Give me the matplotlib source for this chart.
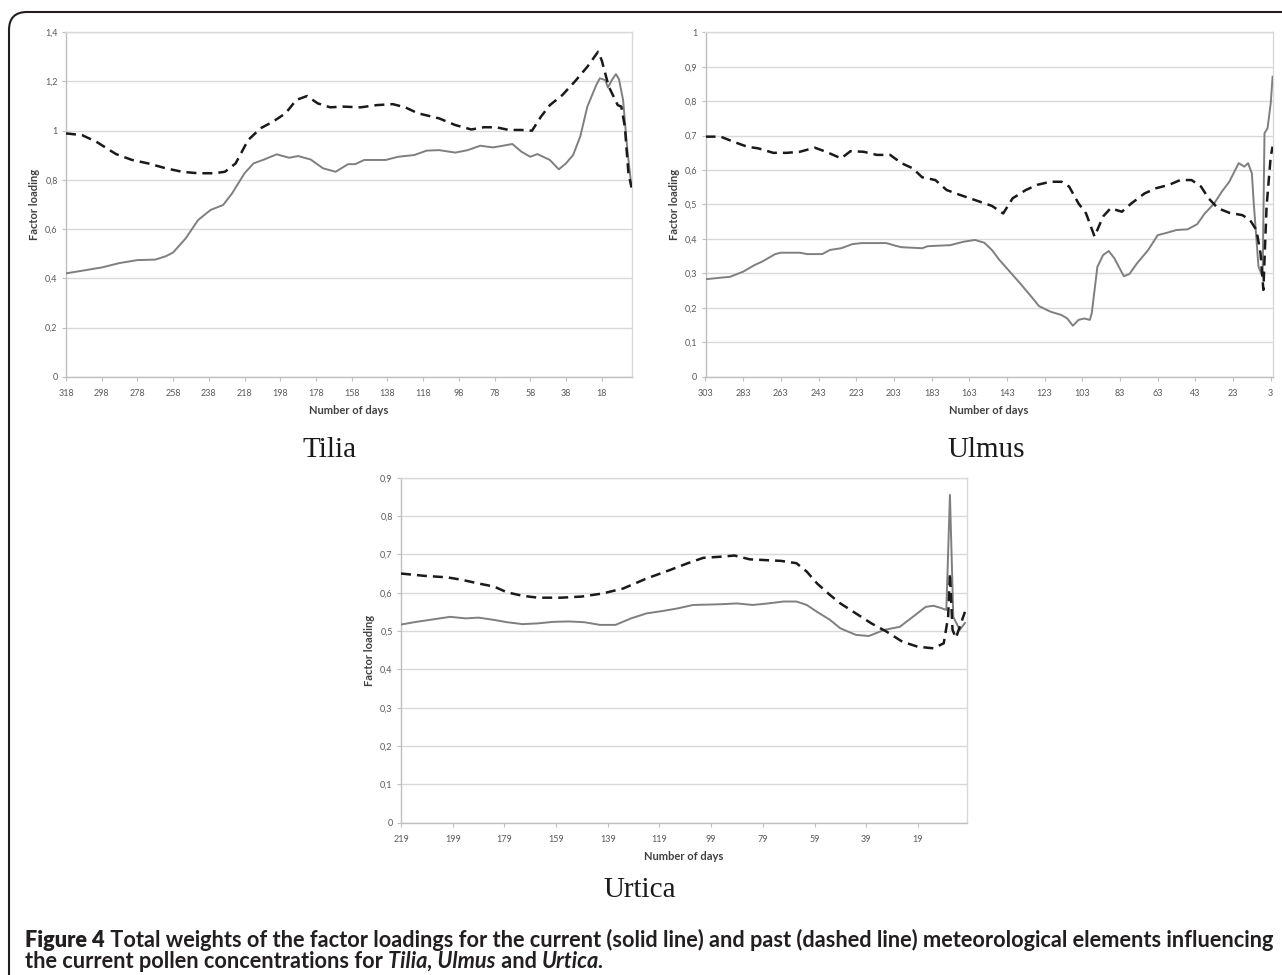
import matplotlib
matplotlib.use("Agg")
import matplotlib.pyplot as plt
from matplotlib.patches import FancyBboxPatch
from matplotlib.ticker import FuncFormatter, MultipleLocator
from matplotlib.transforms import IdentityTransform

# Data (day number, factor loading)
tilia_days_current = [318, 308, 298, 288, 278, 268, 262, 258, 251, 244, 237, 230, 225, 218, 213, 207,
                      200, 193, 188, 181, 174, 167, 160, 156, 151, 139, 132, 123, 116, 109, 100, 93,
                      86, 79, 74, 68, 63, 58, 54, 47, 42, 38, 34, 30, 26, 21, 19, 16, 14.5, 12, 10,
                      8.3, 6, 3.6, 1.3]
tilia_current = [0.420, 0.432, 0.444, 0.462, 0.474, 0.476, 0.490, 0.505, 0.562, 0.637, 0.678, 0.698,
                 0.745, 0.827, 0.867, 0.883, 0.904, 0.890, 0.897, 0.883, 0.847, 0.833, 0.864, 0.864,
                 0.881, 0.881, 0.894, 0.901, 0.919, 0.921, 0.911, 0.921, 0.939, 0.932, 0.938, 0.946,
                 0.915, 0.894, 0.905, 0.881, 0.843, 0.867, 0.901, 0.976, 1.098, 1.186, 1.213, 1.206,
                 1.176, 1.209, 1.230, 1.209, 1.125, 0.921, 0.772]
tilia_days_past = [318, 309, 301, 290, 281, 272, 262, 253, 244, 235, 229, 223, 216, 209, 202, 195,
                   189, 183, 177, 170, 163, 153, 144, 135, 128, 121, 109, 100, 91, 84, 77, 70, 63,
                   57, 52, 47, 40, 33, 26, 20, 18, 14, 9, 7, 5, 3, 1.3]
tilia_past = [0.989, 0.982, 0.955, 0.905, 0.881, 0.867, 0.847, 0.833, 0.827, 0.827, 0.833, 0.867,
              0.962, 1.010, 1.037, 1.071, 1.125, 1.141, 1.111, 1.095, 1.098, 1.095, 1.104, 1.108,
              1.095, 1.071, 1.050, 1.023, 1.005, 1.014, 1.014, 1.003, 1.003, 1.000, 1.057, 1.104,
              1.145, 1.200, 1.260, 1.321, 1.287, 1.179, 1.104, 1.098, 1.016, 0.827, 0.770]

ulmus_days_current = [303, 294, 290, 283, 277, 273, 266, 263, 253, 249, 241, 237, 231, 225, 220, 207,
                      202, 199, 188, 185, 173, 166, 160, 155, 151, 147, 141, 136, 130, 126, 120, 114,
                      111, 108, 105, 102, 99, 98, 95, 92, 89, 86, 81, 78, 74, 68, 63, 58, 53, 47, 42,
                      38, 33, 29, 25, 20, 17, 15, 13, 12, 9.5, 7.3, 6.3, 4.7, 3, 2]
ulmus_current = [0.283, 0.288, 0.290, 0.305, 0.324, 0.334, 0.356, 0.360, 0.360, 0.356, 0.356, 0.368,
                 0.373, 0.385, 0.388, 0.388, 0.380, 0.376, 0.373, 0.379, 0.382, 0.392, 0.397, 0.389,
                 0.368, 0.339, 0.302, 0.271, 0.232, 0.205, 0.189, 0.179, 0.169, 0.148, 0.165, 0.169,
                 0.165, 0.184, 0.319, 0.353, 0.365, 0.344, 0.292, 0.298, 0.329, 0.368, 0.411, 0.418,
                 0.426, 0.428, 0.443, 0.474, 0.503, 0.537, 0.566, 0.620, 0.610, 0.620, 0.590, 0.503,
                 0.320, 0.290, 0.707, 0.721, 0.794, 0.871]
ulmus_days_past = [303, 295, 288, 281, 275, 267, 260, 253, 245, 239, 231, 226, 219, 212, 205, 199,
                   193, 188, 181, 175, 168, 160, 151, 145, 140, 133, 127, 120, 114, 110, 105, 101,
                   96.5, 92, 88, 82, 77, 70, 64, 57, 51, 45, 40, 36, 31, 25, 18, 14, 10.6, 8.4, 6.9,
                   5.2, 3, 2]
ulmus_past = [0.697, 0.697, 0.682, 0.668, 0.663, 0.650, 0.650, 0.653, 0.665, 0.653, 0.634, 0.655,
              0.653, 0.644, 0.644, 0.620, 0.605, 0.579, 0.571, 0.542, 0.528, 0.513, 0.496, 0.474,
              0.518, 0.542, 0.557, 0.566, 0.566, 0.552, 0.503, 0.474, 0.407, 0.465, 0.489, 0.479,
              0.503, 0.532, 0.547, 0.557, 0.571, 0.571, 0.552, 0.518, 0.489, 0.476, 0.469, 0.455,
              0.426, 0.358, 0.252, 0.494, 0.639, 0.668]

urtica_days_current = [219, 213, 207, 200, 194, 189, 183, 178, 172, 166, 160, 154, 148, 142, 136, 130,
                       124, 118, 112, 106, 100, 95, 89, 83, 77, 71, 66, 62, 58, 53, 49, 43, 38, 32,
                       26, 20, 16, 13, 10, 8, 6.6, 5.3, 2.8, 0.8]
urtica_current = [0.517, 0.524, 0.530, 0.537, 0.533, 0.535, 0.529, 0.523, 0.518, 0.520, 0.524, 0.525,
                  0.523, 0.516, 0.516, 0.533, 0.546, 0.552, 0.559, 0.568, 0.569, 0.570, 0.572, 0.568,
                  0.572, 0.577, 0.577, 0.568, 0.550, 0.529, 0.507, 0.490, 0.487, 0.503, 0.511, 0.542,
                  0.563, 0.566, 0.560, 0.555, 0.855, 0.537, 0.503, 0.521]
urtica_days_past = [219, 210, 201, 195, 189, 183, 178, 172, 166, 157, 149, 141, 133, 124, 115, 108,
                    102, 95, 90, 84, 78, 72, 66, 62, 58, 53, 49, 43, 37, 31, 25, 19, 13, 9, 7.3, 6.6,
                    5.6, 4.3, 2.8, 0.8]
urtica_past = [0.650, 0.644, 0.640, 0.633, 0.624, 0.616, 0.601, 0.592, 0.587, 0.587, 0.590, 0.598,
               0.611, 0.637, 0.659, 0.677, 0.691, 0.694, 0.697, 0.687, 0.685, 0.683, 0.677, 0.655,
               0.624, 0.594, 0.572, 0.546, 0.520, 0.498, 0.472, 0.459, 0.455, 0.468, 0.537, 0.651,
               0.503, 0.482, 0.511, 0.550]

W, H = 1282, 975
fig = plt.figure(figsize=(W / 100, H / 100), dpi=100)
fig.patch.set_facecolor("white")

tick_font = "Lato"


def comma_fmt(v, pos):
    s = f"{v:.1f}".rstrip("0").rstrip(".")
    return s.replace(".", ",")


def px_rect(left, top, right, bottom):
    return [left / W, 1 - bottom / H, (right - left) / W, (bottom - top) / H]


# Fungsi panel gaya Excel
def draw_panel(rect, d_cur, v_cur, d_past, v_past, xstart, xend, ymax, ystep):
    ax = fig.add_axes(rect)
    ax.plot(d_cur, v_cur, color="#7f7f7f", lw=1.4, solid_joinstyle="round", zorder=3)
    ax.plot(d_past, v_past, color="#1a1a1a", lw=1.8, ls=(0, (4, 2.4)), zorder=4)
    ax.set_xlim(xstart, xend)
    ax.set_ylim(0, ymax)
    ax.set_xticks(list(range(xstart, 0, -20)))
    ax.yaxis.set_major_locator(MultipleLocator(ystep))
    ax.yaxis.set_major_formatter(FuncFormatter(comma_fmt))
    ax.grid(axis="y", color="#d9d9d9", lw=1.0)
    ax.set_axisbelow(True)
    for side in ["left", "bottom"]:
        ax.spines[side].set_color("#bfbfbf")
        ax.spines[side].set_linewidth(1.0)
    for side in ["top", "right"]:
        ax.spines[side].set_color("#d9d9d9")
        ax.spines[side].set_linewidth(1.0)
    ax.tick_params(axis="both", labelsize=6.5, labelcolor="#595959", color="#bfbfbf",
                   length=3, width=0.8)
    ax.tick_params(axis="x", pad=6)
    ax.tick_params(axis="y", pad=3)
    for lab in ax.get_xticklabels() + ax.get_yticklabels():
        lab.set_family(tick_font)
    ax.annotate("Number of days", xy=(0.5, 0), xycoords="axes fraction", xytext=(0, -24.5),
                textcoords="offset points", ha="center", va="center", fontsize=8,
                fontweight="bold", color="#404040", family=tick_font)
    ax.annotate("Factor loading", xy=(0, 0.5), xycoords="axes fraction", xytext=(-22.5, 0),
                textcoords="offset points", ha="center", va="center", rotation=90,
                fontsize=8, fontweight="bold", color="#404040", family=tick_font)
    return ax


draw_panel(px_rect(66, 32.3, 632, 376.7), tilia_days_current, tilia_current,
           tilia_days_past, tilia_past, 318, 1, 1.4, 0.2)
draw_panel(px_rect(705.5, 32.3, 1272.6, 376.7), ulmus_days_current, ulmus_current,
           ulmus_days_past, ulmus_past, 303, 2, 1.0, 0.1)
draw_panel(px_rect(401, 477.7, 967, 822.7), urtica_days_current, urtica_current,
           urtica_days_past, urtica_past, 219, 0, 0.9, 0.1)

# Judul panel (serif)
for name, cx, base in [("Tilia", 330, 457), ("Ulmus", 986, 457), ("Urtica", 640, 897)]:
    fig.text(cx / W, 1 - base / H, name, ha="center", va="baseline",
             family="Liberation Serif", fontsize=21, color="#1a1a1a")

# Bingkai dengan sudut membulat
frame = FancyBboxPatch((9, -40), 1320, 963 + 40, boxstyle="round,pad=0,rounding_size=18",
                       transform=IdentityTransform(), fill=False, edgecolor="#231f20", lw=1.5)
fig.patches.append(frame)

# Keterangan gambar
cap_font = "Lato"
cap_color = "#231f20"
line1 = [("Figure 4", "heavy", "normal"),
         (" Total weights of the factor loadings for the current (solid line) and past (dashed line) "
          "meteorological elements influencing", "bold", "normal")]
line2 = [("the current pollen concentrations for ", "bold", "normal"),
         ("Tilia, Ulmus", "bold", "italic"),
         (" and ", "bold", "normal"),
         ("Urtica.", "bold", "italic")]

renderer = fig.canvas.get_renderer()


def draw_line(segments, x0, base, size):
    x = x0
    for txt, weight, style in segments:
        t = fig.text(x / W, 1 - base / H, txt, ha="left", va="baseline", family=cap_font,
                     fontsize=size, fontweight=weight, fontstyle=style, color=cap_color)
        x += t.get_window_extent(renderer).width
    return x


probe = draw_line(line1, 0, -100, 12)
for t in list(fig.texts)[-len(line1):]:
    t.remove()
cap_size = 12 * 1240 / probe
draw_line(line1, 25, 947, cap_size)
draw_line(line2, 25, 968, cap_size)

fig.savefig("out.png", dpi=100, facecolor="white")
